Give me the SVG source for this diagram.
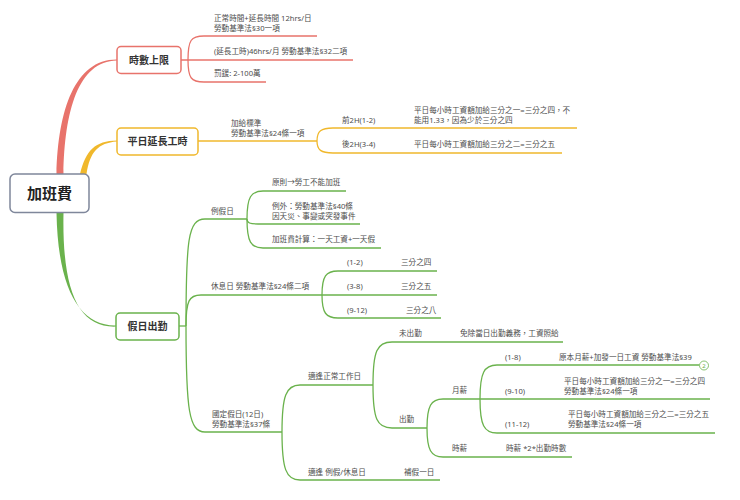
<svg xmlns="http://www.w3.org/2000/svg" width="740" height="500" viewBox="0 0 740 500">
<style>
text{font-family:"Noto Sans","Noto Sans CJK TC",sans-serif;}
.t{font-size:7.6px;fill:#4d4d4d;}
.n{font-size:10px;font-weight:bold;fill:#333;text-anchor:middle;}
.r{fill:none;stroke:#e8736b;stroke-width:1.3;}
.o{fill:none;stroke:#f0b82c;stroke-width:1.3;}
.g{fill:none;stroke:#6ab24c;stroke-width:1.3;}
</style>
<rect width="740" height="500" fill="#ffffff"/>
<g id="connectors">
<path d="M56.5 174 C58 110 75 59 117 59.4 L117 60.6 C78 61 64.5 112 63.5 174 Z" fill="#e8736b"/>
<path d="M80 174 C86 150 95 141 117 140.5 L117 141.6 C98 143 90 152 86.5 174 Z" fill="#f0b82c"/>
<path d="M56.5 213 C58 290 80 326 116 325.4 L116 326.6 C78 328 62 290 63.5 213 Z" fill="#6ab24c"/>
<path class="r" d="M181 60 H353"/>
<path class="r" d="M188 60 C188 40 191 36 204 36 H317"/>
<path class="r" d="M188 60 C188 78 191 82 204 82 H266"/>
<path class="o" d="M198 141 H317"/>
<path class="o" d="M317 141 C317 131 321 128 333 128 H577"/>
<path class="o" d="M317 141 C317 150 321 153 333 153 H562"/>
<path class="g" d="M179 326 H186"/>
<path class="g" d="M186 326 C186 240 188 219 205 219 H247"/>
<path class="g" d="M186 326 C186 301 189 295 201 295 H322"/>
<path class="g" d="M186 326 C186 410 189 432 205 432 H282"/>
<path class="g" d="M247 219 C247 197 251 191 263 191 H346"/>
<path class="g" d="M247 219 C247 223 250 224 258 224 H360"/>
<path class="g" d="M247 219 C247 242 251 248 263 248 H381"/>
<path class="g" d="M322 295 C322 276 326 271 338 271 H437"/>
<path class="g" d="M322 295 H437"/>
<path class="g" d="M322 295 C322 313 326 318 338 318 H441"/>
<path class="g" d="M282 432 C282 396 286 385 300 385 H373"/>
<path class="g" d="M282 432 C282 469 286 480 300 480 H440"/>
<path class="g" d="M373 385 C373 351 377 342 392 342 H563"/>
<path class="g" d="M373 385 C373 419 377 428 392 428 H427"/>
<path class="g" d="M427 428 C427 406 431 399 443 399 H480"/>
<path class="g" d="M427 428 C427 450 431 457 443 457 H572"/>
<path class="g" d="M480 399 C480 373 484 365 497 365 H699.5"/>
<path class="g" d="M480 399 H710"/>
<path class="g" d="M480 399 C480 425 484 433 497 433 H715"/>
</g>
<g id="root">
<rect x="10" y="174" width="79" height="38.5" rx="5" fill="#ffffff" stroke="#7f879b" stroke-width="1.5"/>
<text x="49.5" y="198.5" style="font-size:15px;font-weight:bold;fill:#222;text-anchor:middle">加班費</text>
</g>
<g id="hours-limit">
<rect x="117" y="46.5" width="64" height="27" rx="4" fill="#ffffff" stroke="#e8736b" stroke-width="1.5"/>
<text class="n" x="149" y="63.5">時數上限</text>
<text class="t" x="214" y="21">正常時間+延長時間 12hrs/日</text>
<text class="t" x="214" y="31">勞動基準法§30一項</text>
<text class="t" x="214" y="54">(延長工時)46hrs/月  勞動基準法§32二項</text>
<text class="t" x="214" y="76">罰鍰: 2-100萬</text>
</g>
<g id="weekday-overtime">
<rect x="117" y="128" width="81" height="27" rx="4" fill="#ffffff" stroke="#f0b82c" stroke-width="1.5"/>
<text class="n" x="157.5" y="145">平日延長工時</text>
<text class="t" x="231" y="126">加給標準</text>
<text class="t" x="231" y="136">勞動基準法§24條一項</text>
<text class="t" x="342" y="123">前2H(1-2)</text>
<text class="t" x="342" y="147">後2H(3-4)</text>
<text class="t" x="414" y="113">平日每小時工資額加給三分之一=三分之四，不</text>
<text class="t" x="414" y="123">能用1.33，因為少於三分之四</text>
<text class="t" x="414" y="147">平日每小時工資額加給三分之二=三分之五</text>
</g>
<g id="holiday-work">
<rect x="116" y="313" width="63" height="27" rx="4" fill="#ffffff" stroke="#6ab24c" stroke-width="1.5"/>
<text class="n" x="147.5" y="330">假日出勤</text>
</g>
<g id="regular-leave">
<text class="t" x="211" y="214">例假日</text>
<text class="t" x="272" y="185">原則→勞工不能加班</text>
<text class="t" x="272" y="209">例外：勞動基準法§40條</text>
<text class="t" x="272" y="219">因天災、事變或突發事件</text>
<text class="t" x="272" y="242">加班費計算：一天工資+一天假</text>
</g>
<g id="rest-day">
<text class="t" x="211" y="289">休息日 勞動基準法§24條二項</text>
<text class="t" x="347" y="265">(1-2)</text>
<text class="t" x="401" y="265">三分之四</text>
<text class="t" x="347" y="289">(3-8)</text>
<text class="t" x="401" y="289">三分之五</text>
<text class="t" x="347" y="313">(9-12)</text>
<text class="t" x="406" y="313">三分之八</text>
</g>
<g id="national-holiday">
<text class="t" x="212" y="417">國定假日(12日)</text>
<text class="t" x="212" y="427">勞動基準法§37條</text>
<text class="t" x="308" y="379">適逢正常工作日</text>
<text class="t" x="308" y="475">適逢 例假/休息日</text>
<text class="t" x="404" y="475">補假一日</text>
<text class="t" x="399" y="336">未出勤</text>
<text class="t" x="460" y="336">免除當日出勤義務，工資照給</text>
<text class="t" x="399" y="422">出勤</text>
<text class="t" x="452" y="393">月薪</text>
<text class="t" x="452" y="451">時薪</text>
<text class="t" x="506" y="451">時薪 *2*出勤時數</text>
<text class="t" x="505" y="360">(1-8)</text>
<text class="t" x="559" y="360">原本月薪+加發一日工資 勞動基準法§39</text>
<text class="t" x="505" y="394">(9-10)</text>
<text class="t" x="564" y="384">平日每小時工資額加給三分之一=三分之四</text>
<text class="t" x="564" y="394">勞動基準法§24條一項</text>
<text class="t" x="505" y="427">(11-12)</text>
<text class="t" x="568" y="417">平日每小時工資額加給三分之二=三分之五</text>
<text class="t" x="568" y="427">勞動基準法§24條一項</text>
<circle cx="704" cy="365.5" r="4.5" fill="#ffffff" stroke="#6ab24c" stroke-width="0.8"/>
<text x="704" y="367.8" style="font-size:6px;fill:#6ab24c;text-anchor:middle">2</text>
</g>
</svg>
